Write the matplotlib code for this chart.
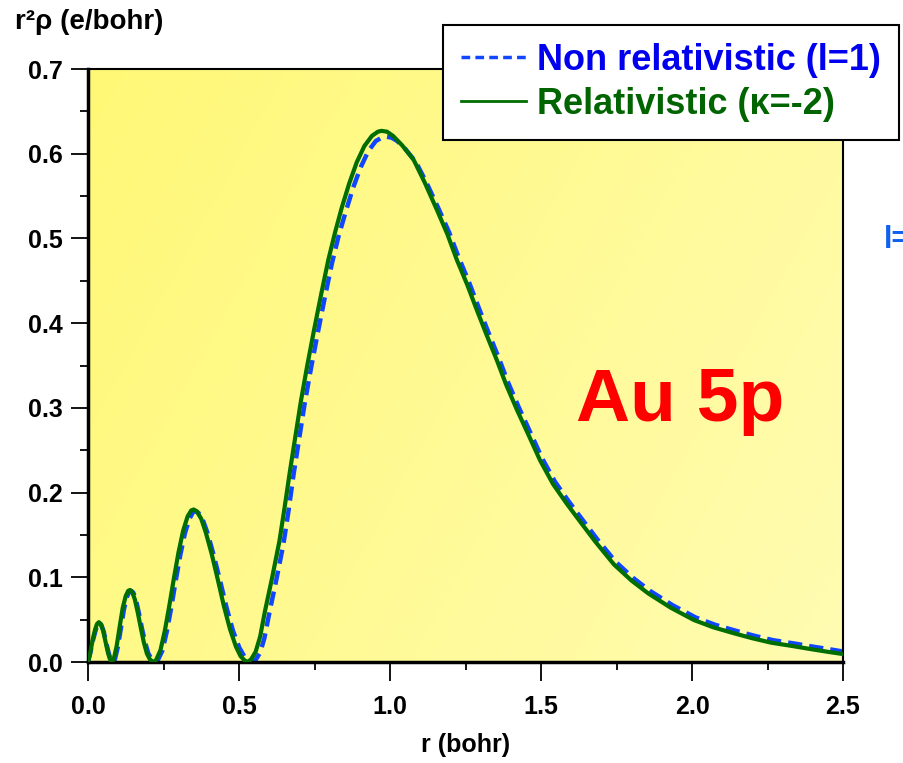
import numpy as np
import matplotlib.pyplot as plt
from matplotlib.lines import Line2D
from matplotlib.ticker import MultipleLocator, FormatStrFormatter

plt.rcParams['font.family'] = ['Liberation Sans', 'DejaVu Sans']
plt.rcParams['font.weight'] = 'bold'

# ---- data: r (bohr) and r^2 rho (e/bohr) ----
# relativistic (kappa=-2), green solid
r_rel = [0.0, 0.008, 0.016, 0.024, 0.030, 0.036, 0.042, 0.050, 0.058, 0.066, 0.072, 0.078,
         0.085, 0.095, 0.105, 0.115, 0.125, 0.133, 0.139, 0.146, 0.155, 0.165, 0.175, 0.185,
         0.195, 0.205, 0.216,
         0.225, 0.240, 0.255, 0.270, 0.285, 0.300, 0.315, 0.330, 0.342, 0.350, 0.360, 0.375,
         0.390, 0.410, 0.430, 0.450, 0.470, 0.490, 0.505, 0.518, 0.528,
         0.540, 0.555, 0.570, 0.586, 0.610, 0.634, 0.650, 0.669, 0.687, 0.705, 0.726, 0.748,
         0.772, 0.796, 0.818, 0.840, 0.865, 0.890, 0.915, 0.940, 0.960, 0.972, 0.990, 1.010,
         1.040, 1.078, 1.115, 1.155, 1.190, 1.221, 1.255, 1.287, 1.320, 1.353, 1.385, 1.420,
         1.460, 1.497, 1.540, 1.585, 1.629, 1.680, 1.742, 1.800, 1.855, 1.930, 2.006, 2.070,
         2.138, 2.200, 2.262, 2.330, 2.397, 2.450, 2.500]
rho_rel = [0.0, 0.012, 0.027, 0.039, 0.045, 0.047, 0.045, 0.037, 0.024, 0.011, 0.004, 0.0,
           0.003, 0.019, 0.042, 0.064, 0.078, 0.084, 0.085, 0.083, 0.074, 0.058, 0.040, 0.023,
           0.010, 0.003, 0.0,
           0.002, 0.014, 0.038, 0.068, 0.100, 0.130, 0.155, 0.172, 0.179, 0.180, 0.178, 0.169,
           0.153, 0.127, 0.097, 0.066, 0.039, 0.018, 0.007, 0.002, 0.0,
           0.003, 0.012, 0.030, 0.060, 0.100, 0.143, 0.180, 0.226, 0.267, 0.308, 0.350, 0.391,
           0.434, 0.475, 0.507, 0.536, 0.565, 0.590, 0.609, 0.621, 0.626, 0.627, 0.626, 0.621,
           0.610, 0.593, 0.566, 0.534, 0.505, 0.475, 0.446, 0.416, 0.386, 0.357, 0.327, 0.298,
           0.267, 0.238, 0.210, 0.187, 0.166, 0.142, 0.115, 0.096, 0.081, 0.064, 0.0496, 0.041,
           0.034, 0.028, 0.0228, 0.019, 0.015, 0.012, 0.0094]

# non relativistic (l=1), blue dashed
r_nonrel = [0.0, 0.008, 0.016, 0.025, 0.031, 0.038, 0.044, 0.052, 0.060, 0.069, 0.075, 0.082,
            0.089, 0.099, 0.109, 0.119, 0.129, 0.137, 0.143, 0.150, 0.159, 0.169, 0.179, 0.190,
            0.200, 0.211, 0.222,
            0.231, 0.246, 0.261, 0.276, 0.291, 0.306, 0.321, 0.336, 0.348, 0.356, 0.366, 0.381,
            0.397, 0.417, 0.438, 0.459, 0.480, 0.501, 0.517, 0.532, 0.545,
            0.556, 0.570, 0.584, 0.600, 0.623, 0.647, 0.663, 0.681, 0.699, 0.717, 0.738, 0.760,
            0.784, 0.808, 0.830, 0.853, 0.878, 0.903, 0.928, 0.953, 0.973, 0.988, 1.005, 1.024,
            1.052, 1.086, 1.122, 1.161, 1.196, 1.227, 1.261, 1.293, 1.326, 1.359, 1.391, 1.426,
            1.466, 1.503, 1.546, 1.591, 1.635, 1.686, 1.748, 1.806, 1.861, 1.936, 2.012, 2.076,
            2.144, 2.206, 2.268, 2.336, 2.403, 2.456, 2.500]
rho_nonrel = [0.0, 0.011, 0.025, 0.037, 0.044, 0.046, 0.044, 0.036, 0.023, 0.010, 0.003, 0.0,
              0.003, 0.018, 0.040, 0.062, 0.077, 0.083, 0.084, 0.082, 0.073, 0.057, 0.039, 0.022,
              0.010, 0.003, 0.0,
              0.002, 0.013, 0.036, 0.065, 0.097, 0.127, 0.152, 0.169, 0.177, 0.178, 0.176, 0.167,
              0.151, 0.125, 0.095, 0.064, 0.037, 0.017, 0.007, 0.002, 0.0,
              0.003, 0.011, 0.028, 0.057, 0.096, 0.139, 0.176, 0.222, 0.263, 0.304, 0.346, 0.387,
              0.430, 0.471, 0.503, 0.531, 0.560, 0.584, 0.603, 0.615, 0.619, 0.620, 0.619, 0.615,
              0.605, 0.590, 0.565, 0.535, 0.507, 0.478, 0.449, 0.419, 0.389, 0.360, 0.330, 0.301,
              0.270, 0.241, 0.213, 0.190, 0.169, 0.145, 0.118, 0.099, 0.084, 0.067, 0.0526, 0.044,
              0.037, 0.031, 0.0258, 0.022, 0.018, 0.015, 0.0124]

x_ticks = [0.0, 0.5, 1.0, 1.5, 2.0, 2.5]
y_ticks = [0.0, 0.1, 0.2, 0.3, 0.4, 0.5, 0.6, 0.7]

# ---- figure ----
fig = plt.figure(figsize=(9.04, 7.63), dpi=100)
ax = fig.add_axes([88 / 904, 1 - 662 / 763, (843 - 88) / 904, (662 - 69) / 763])

# diagonal yellow gradient background (bright top-left -> pale bottom-right)
gx, gy = np.meshgrid(np.linspace(0, 1, 200), np.linspace(0, 1, 200))
t = 0.7 * gx + 0.3 * gy  # row 0 is the top of the axes
c0 = np.array([255, 248, 118]) / 255
c1 = np.array([255, 252, 178]) / 255
img = c0[None, None, :] * (1 - t[..., None]) + c1[None, None, :] * t[..., None]
ax.imshow(img, extent=[0, 2.5, 0, 0.7], aspect='auto', zorder=0, origin='upper')

blue = '#1046ff'
green = '#006e00'
ax.plot(r_nonrel, rho_nonrel, color=blue, lw=3.2, ls=(0, (3.2, 1.6)), zorder=2)
ax.plot(r_rel, rho_rel, color=green, lw=3.0, zorder=3, solid_joinstyle='round')

ax.set_xlim(0, 2.5)
ax.set_ylim(0, 0.7)
ax.set_xticks(x_ticks)
ax.set_yticks(y_ticks)
ax.xaxis.set_minor_locator(MultipleLocator(0.25))
ax.yaxis.set_minor_locator(MultipleLocator(0.05))
ax.xaxis.set_major_formatter(FormatStrFormatter('%.1f'))
ax.yaxis.set_major_formatter(FormatStrFormatter('%.1f'))
ax.tick_params(which='major', direction='out', length=12, width=1.3, labelsize=18, pad=6)
ax.tick_params(which='minor', direction='out', length=6, width=1.3)
ax.tick_params(axis='x', which='major', length=14, pad=10)
for lbl in ax.get_xticklabels() + ax.get_yticklabels():
    lbl.set_fontweight('bold')
ax.spines['left'].set_linewidth(2.5)
ax.spines['bottom'].set_linewidth(2.5)
ax.spines['top'].set_linewidth(1.5)
ax.spines['right'].set_linewidth(1.5)

ax.set_xlabel('r (bohr)', fontsize=18, fontweight='bold', labelpad=10)
fig.text(15 / 904, 1 - 22 / 763, 'r\u00b2\u03c1 (e/bohr)', fontsize=20, fontweight='bold',
         ha='left', va='center')

ax.text(1.96, 0.307, 'Au 5p', color='#ff0000', fontsize=54, fontweight='bold',
        ha='center', va='center')
fig.text(884 / 904, 1 - 240 / 763, 'l=', color='#1060f0', fontsize=22, fontweight='bold',
         ha='left', va='center')

handles = [Line2D([], [], color=blue, lw=2.5, ls=(0, (2.5, 1.5))),
           Line2D([], [], color=green, lw=2.0)]
labels = ['Non relativistic (l=1)', 'Relativistic (\u03ba=-2)']
leg = fig.legend(handles, labels, loc='upper left',
                 bbox_to_anchor=(443 / 904, 1 - 25 / 763), borderaxespad=0,
                 fancybox=False, framealpha=1, edgecolor='black',
                 prop={'size': 26, 'weight': 'bold'}, handlelength=1.8,
                 handletextpad=0.3, borderpad=0.5, labelspacing=0.25)
leg.get_frame().set_linewidth(1.5)
leg.set_zorder(10)
leg.get_texts()[0].set_color('#0000ee')
leg.get_texts()[1].set_color('#006400')

fig.savefig('out.png', dpi=100)
